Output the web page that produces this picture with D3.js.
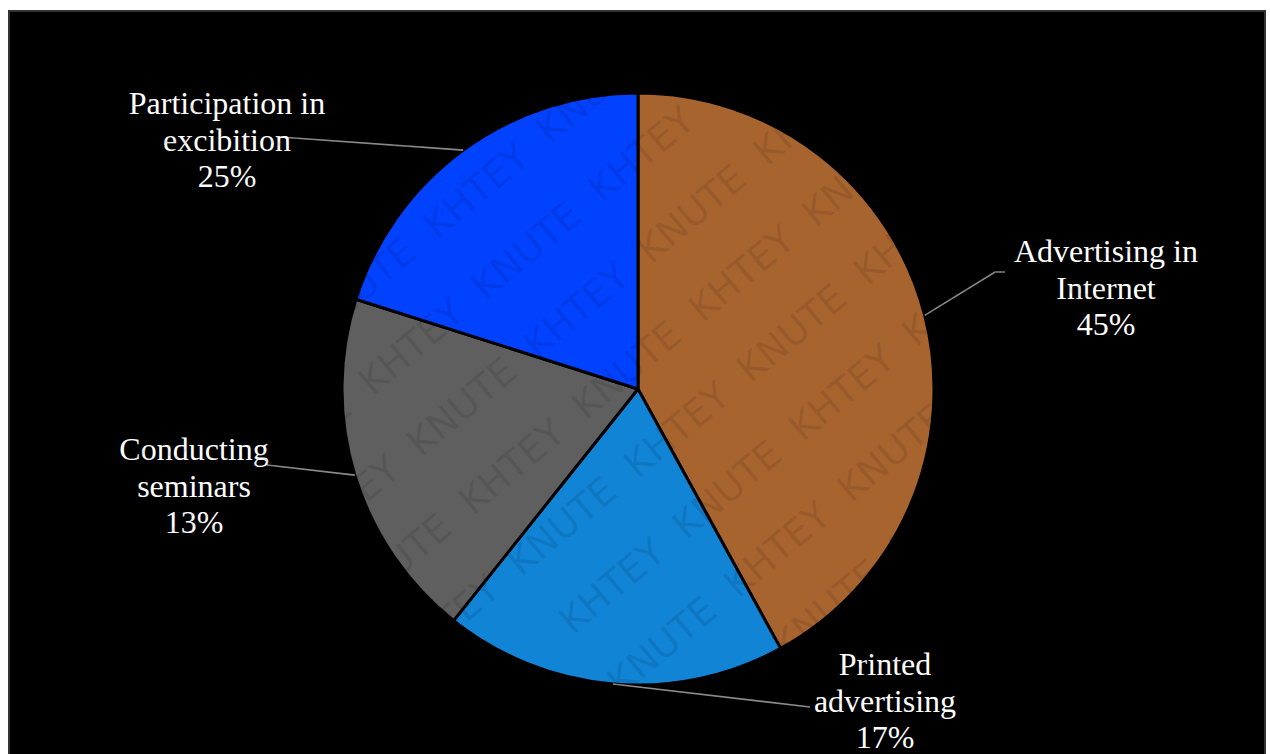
<!DOCTYPE html>
<html>
<head>
<meta charset="utf-8">
<script src="https://cdn.jsdelivr.net/npm/d3@7"></script>
<style>
  html, body { margin: 0; padding: 0; background: #ffffff; }
  svg { display: block; }
</style>
</head>
<body>
<svg id="chart" width="1270" height="754"></svg>
<script>
// ---- data ----
const categories = ["Advertising in Internet", "Printed advertising", "Conducting seminars", "Participation in excibition"];
// slice sizes as drawn in the picture
const sliceValues = [42.0, 18.7, 19.2, 20.1];
// percentages printed in the labels
const labelPercents = ["45%", "17%", "13%", "25%"];
const labelLines = [
  ["Advertising in", "Internet"],
  ["Printed", "advertising"],
  ["Conducting", "seminars"],
  ["Participation in", "excibition"]
];
const watermarkWords = ["KNUTE", "KHTEY"];

// ---- layout / style ----
const W = 1270, H = 754;
const cx = 638, cy = 389, R = 296;
const colors = ["#a8642f", "#1184d6", "#5f5f5f", "#0042ff"];
// label block centre x, first baseline y, and leader end point
const labelLayout = [
  { x: 1106, y: 262, end: [[995, 272], [1005, 272]] },
  { x: 885,  y: 675, end: [[810, 707]] },
  { x: 194,  y: 460, end: [[267, 465]] },
  { x: 227,  y: 114, end: [[280, 137]] }
];
const lineH = 36.5;

const svg = d3.select("#chart");

// frame
svg.append("rect").attr("x", 9).attr("y", 11).attr("width", 1256).attr("height", 760)
  .attr("fill", "#000").attr("stroke", "#333").attr("stroke-width", 2);

const data = categories.map((c, i) => ({ name: c, value: sliceValues[i], i }));
const pie = d3.pie().sort(null).value(d => d.value).startAngle(0).endAngle(2 * Math.PI);
const arcs = pie(data);
const arc = d3.arc().innerRadius(0).outerRadius(R);
const edge = d3.arc().innerRadius(R).outerRadius(R);

const g = svg.append("g").attr("transform", `translate(${cx},${cy})`);
g.selectAll("path.slice").data(arcs).join("path")
  .attr("class", "slice")
  .attr("d", arc)
  .attr("fill", d => colors[d.data.i])
  .attr("stroke", "#000")
  .attr("stroke-width", 3)
  .attr("stroke-linejoin", "round");

// leader lines
const line = d3.line();
arcs.forEach(a => {
  const c = edge.centroid(a);
  const pts = [[cx + c[0], cy + c[1]], ...labelLayout[a.data.i].end];
  svg.append("path").attr("d", line(pts))
    .attr("fill", "none").attr("stroke", "#8a8a8a").attr("stroke-width", 1.6);
});

// labels
arcs.forEach(a => {
  const i = a.data.i, L = labelLayout[i];
  const t = svg.append("text")
    .attr("x", L.x).attr("y", L.y)
    .attr("text-anchor", "middle")
    .attr("font-family", "'Liberation Serif', 'Times New Roman', serif")
    .attr("font-size", 32)
    .attr("fill", "#ffffff");
  const lines = [...labelLines[i], labelPercents[i]];
  lines.forEach((s, k) => {
    t.append("tspan").attr("x", L.x).attr("y", L.y + k * lineH).text(s);
  });
});

// faint diagonal watermark (individual words, kept inside the picture)
const wm = svg.append("g").attr("pointer-events", "none")
  .attr("font-family", "'DejaVu Sans', sans-serif").attr("font-size", 38)
  .attr("fill", "#000").attr("fill-opacity", 0.1);
const ang = -40 * Math.PI / 180;
const ux = Math.cos(ang), uy = Math.sin(ang);      // along row
const vx = -uy, vy = ux;                           // across rows
const step = 150, rowGap = 78;
for (let r = -14; r <= 14; r++) {
  for (let k = -14; k <= 14; k++) {
    const x = 635 + k * step * ux + r * rowGap * vx;
    const y = 380 + k * step * uy + r * rowGap * vy;
    if (x < 80 || x > 1190 || y < 72 || y > 685) continue;
    wm.append("text")
      .attr("text-anchor", "middle")
      .attr("transform", `translate(${x.toFixed(1)},${y.toFixed(1)}) rotate(-40)`)
      .text(watermarkWords[(((k + r) % 2) + 2) % 2]);
  }
}
</script>
</body>
</html>
